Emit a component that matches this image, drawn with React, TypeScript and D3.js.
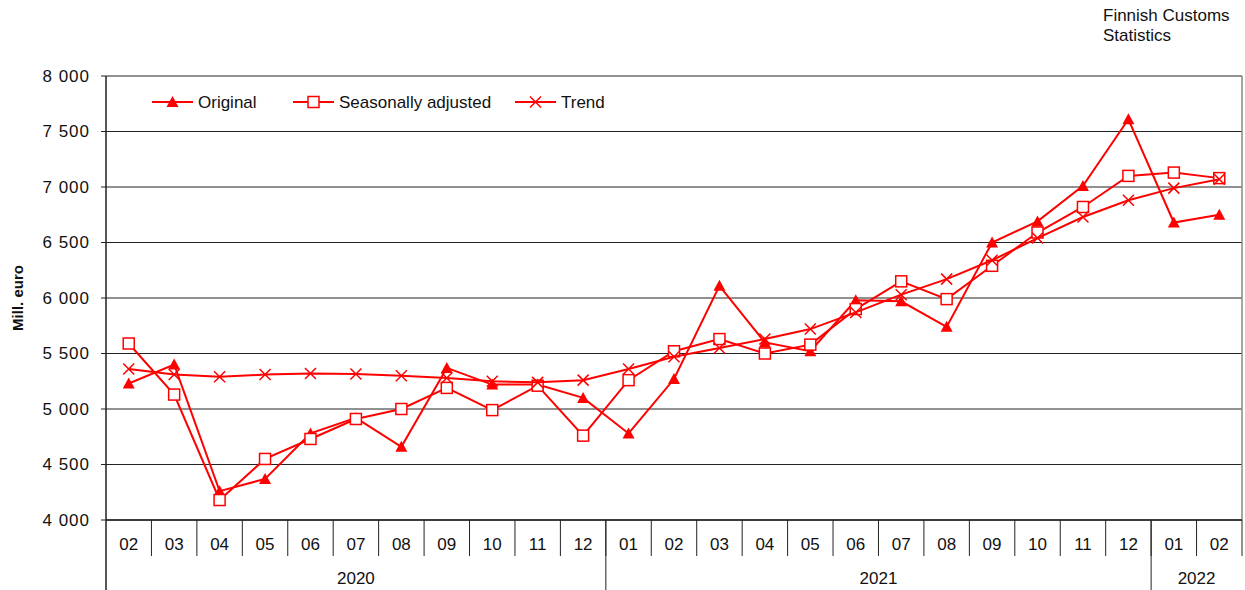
import React from "react";
import * as d3 from "d3";

const WIDTH = 1245;
const HEIGHT = 590;
const MARGIN = { top: 76, right: 3, bottom: 70, left: 106 };

const months = [
  "02", "03", "04", "05", "06", "07", "08", "09", "10", "11", "12",
  "01", "02", "03", "04", "05", "06", "07", "08", "09", "10", "11", "12",
  "01", "02",
];
const years = [
  { label: "2020", start: 0, end: 11 },
  { label: "2021", start: 11, end: 23 },
  { label: "2022", start: 23, end: 25 },
];

const original = [
  5230, 5400, 4260, 4370, 4780, 4920, 4660, 5370, 5220, 5220, 5100,
  4780, 5270, 6110, 5600, 5520, 5980, 5970, 5740, 6500, 6690, 7010, 7610,
  6680, 6750,
];
const seasonallyAdjusted = [
  5590, 5130, 4180, 4550, 4730, 4910, 5000, 5190, 4990, 5210, 4760,
  5260, 5520, 5630, 5500, 5580, 5900, 6150, 5990, 6290, 6590, 6820, 7100,
  7130, 7080,
];
const trend = [
  5360, 5310, 5290, 5310, 5320, 5315, 5300, 5280, 5250, 5240, 5260,
  5360, 5470, 5550, 5630, 5720, 5870, 6030, 6170, 6340, 6540, 6730, 6880,
  6990, 7070,
];
const yTicks = [4000, 4500, 5000, 5500, 6000, 6500, 7000, 7500, 8000];

const RED = "#ff0000";
const FONT = "Arial, 'Liberation Sans', sans-serif";

const fmt = (v: number) => d3.format(",")(v).replace(",", " ");

const Marker = ({ type, x, y }: { type: string; x: number; y: number }) => {
  if (type === "triangle") {
    return <path d={`M${x},${y - 6}L${x + 6},${y + 5}L${x - 6},${y + 5}Z`} fill={RED} />;
  }
  if (type === "square") {
    return (
      <rect x={x - 5.5} y={y - 5.5} width={11} height={11} fill="#fff" stroke={RED} strokeWidth={1.5} />
    );
  }
  return (
    <path
      d={`M${x - 5.5},${y - 5.5}L${x + 5.5},${y + 5.5}M${x - 5.5},${y + 5.5}L${x + 5.5},${y - 5.5}`}
      stroke={RED}
      strokeWidth={1.5}
    />
  );
};

export default function App() {
  const boundsWidth = WIDTH - MARGIN.left - MARGIN.right;
  const boundsHeight = HEIGHT - MARGIN.top - MARGIN.bottom;

  const xScale = d3
    .scaleBand<number>()
    .domain(months.map((_, i) => i))
    .range([MARGIN.left, MARGIN.left + boundsWidth]);
  const bw = xScale.bandwidth();
  const cx = (i: number) => (xScale(i) as number) + bw / 2;
  const edge = (i: number) => MARGIN.left + i * bw;

  const yScale = d3
    .scaleLinear()
    .domain([4000, 8000])
    .range([MARGIN.top + boundsHeight, MARGIN.top]);

  const line = d3
    .line<number>()
    .x((_, i) => cx(i))
    .y((d) => yScale(d));

  const series = [
    { name: "Original", data: original, marker: "triangle" },
    { name: "Seasonally adjusted", data: seasonallyAdjusted, marker: "square" },
    { name: "Trend", data: trend, marker: "x" },
  ];

  const legendPos = [
    { x: 152, name: "Original", marker: "triangle" },
    { x: 293, name: "Seasonally adjusted", marker: "square" },
    { x: 515, name: "Trend", marker: "x" },
  ];

  const bottom = MARGIN.top + boundsHeight;
  const right = MARGIN.left + boundsWidth;

  return (
    <svg
      width={WIDTH}
      height={HEIGHT}
      style={{ position: "absolute", left: 0, top: 0, fontFamily: FONT }}
    >
      <rect width={WIDTH} height={HEIGHT} fill="#fff" />

      {/* grid lines */}
      {yTicks.map((t) => (
        <line key={t} x1={MARGIN.left - 5} x2={right} y1={yScale(t)} y2={yScale(t)} stroke="#222" strokeWidth={1} />
      ))}
      <line x1={right} x2={right} y1={MARGIN.top} y2={bottom} stroke="#888" strokeWidth={1.5} />

      {/* y axis */}
      <line x1={MARGIN.left} x2={MARGIN.left} y1={MARGIN.top} y2={HEIGHT} stroke="#222" strokeWidth={1.5} />
      {yTicks.map((t) => (
        <text key={t} x={90} y={yScale(t)} dy="0.35em" textAnchor="end" fontSize={17} letterSpacing={1} fill="#111">
          {fmt(t)}
        </text>
      ))}
      <text
        transform={`translate(23,${(MARGIN.top + bottom) / 2}) rotate(-90)`}
        textAnchor="middle"
        fontSize={15}
        fontWeight="bold"
        fill="#111"
      >
        Mill. euro
      </text>

      {/* x axis categories */}
      <line x1={MARGIN.left} x2={right} y1={bottom} y2={bottom} stroke="#222" strokeWidth={1.5} />
      {months.map((m, i) => (
        <g key={i}>
          <line x1={edge(i + 1)} x2={edge(i + 1)} y1={bottom} y2={bottom + 36} stroke="#222" strokeWidth={1} />
          <text x={cx(i)} y={bottom + 30} textAnchor="middle" fontSize={17} fill="#111">
            {m}
          </text>
        </g>
      ))}
      {years.map((yr) => (
        <g key={yr.label}>
          {yr.start > 0 && (
            <line x1={edge(yr.start)} x2={edge(yr.start)} y1={bottom} y2={HEIGHT} stroke="#222" strokeWidth={1} />
          )}
          <text x={(edge(yr.start) + edge(yr.end)) / 2} y={bottom + 64} textAnchor="middle" fontSize={17} fill="#111">
            {yr.label}
          </text>
        </g>
      ))}

      {/* series */}
      {series.map((s) => (
        <g key={s.name}>
          <path d={line(s.data) as string} fill="none" stroke={RED} strokeWidth={2} />
          {s.data.map((v, i) => (
            <Marker key={i} type={s.marker} x={cx(i)} y={yScale(v)} />
          ))}
        </g>
      ))}

      {/* legend */}
      {legendPos.map((l) => (
        <g key={l.name}>
          <line x1={l.x} x2={l.x + 41} y1={102} y2={102} stroke={RED} strokeWidth={2} />
          <Marker type={l.marker} x={l.x + 20.5} y={102} />
          <text x={l.x + 46} y={102} dy="0.35em" fontSize={17} fill="#111">
            {l.name}
          </text>
        </g>
      ))}

      {/* source */}
      <text x={1103} y={21} fontSize={17} fill="#111">
        Finnish Customs
      </text>
      <text x={1103} y={41} fontSize={17} fill="#111">
        Statistics
      </text>
    </svg>
  );
}
